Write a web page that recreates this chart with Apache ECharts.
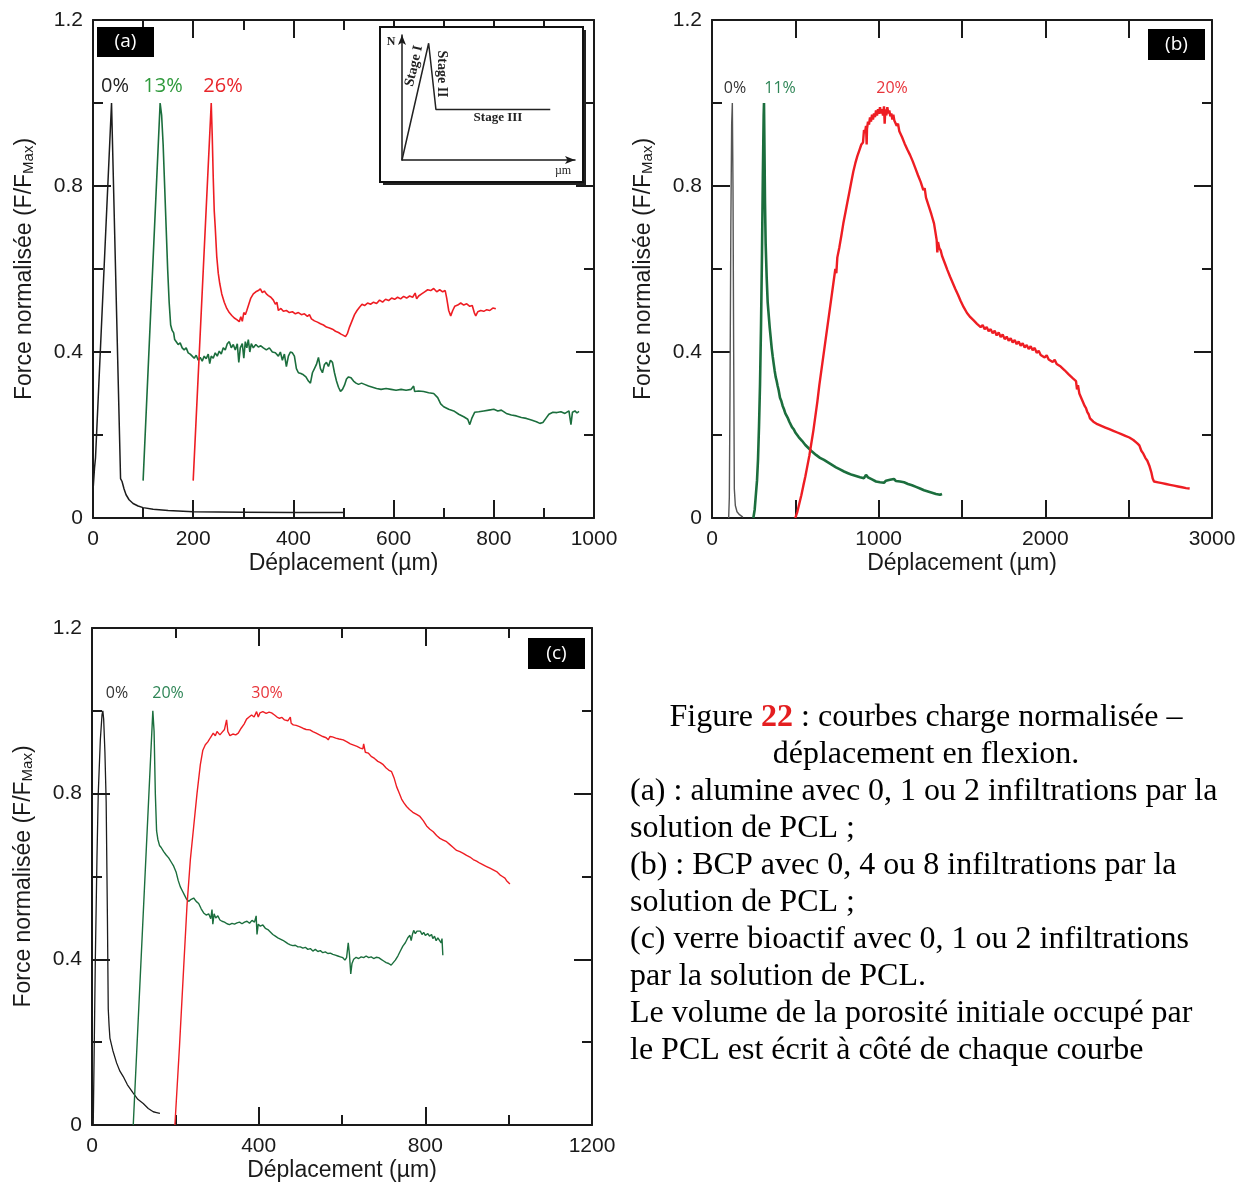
<!DOCTYPE html>
<html>
<head>
<meta charset="utf-8">
<script src="https://cdn.jsdelivr.net/npm/echarts@6/dist/echarts.min.js"></script>
<style>
html, body { margin: 0; padding: 0; background: #fff; }
#chart { width: 1244px; height: 1184px; }
</style>
</head>
<body>
<div id="chart"></div>
<script>
// ---------- (a) alumine : 0, 13, 26 % ----------
const a0 = [[0,0.065],[3,0.12],[5,0.145],[37,1.0],[55,0.095],[58,0.088],[62,0.07],[66,0.056],[72,0.044],[80,0.035],[90,0.029],[100,0.025],[120,0.021],[150,0.018],[200,0.015],[300,0.014],[400,0.013],[500,0.013]];
const a13 = [[100,0.09],[134,1.0],[137,0.97],[140,0.9],[143,0.8],[146,0.7],[149,0.6],[152,0.52],[155,0.465],[158,0.452],[161,0.446],[163,0.43],[166,0.428],[170,0.418],[174,0.422],[178,0.41],[182,0.405],[186,0.41],[190,0.398],[194,0.395],[198,0.39],[202,0.385],[206,0.392],[210,0.38],[214,0.387],[218,0.378],[222,0.39],[226,0.384],[230,0.395],[233,0.372],[236,0.39],[240,0.385],[244,0.398],[248,0.39],[252,0.402],[256,0.395],[260,0.41],[264,0.405],[268,0.42],[272,0.425],[276,0.41],[280,0.418],[284,0.405],[288,0.42],[291,0.375],[294,0.41],[298,0.42],[301,0.385],[304,0.425],[307,0.41],[310,0.43],[313,0.4],[316,0.42],[320,0.41],[325,0.418],[330,0.412],[335,0.415],[340,0.41],[346,0.405],[352,0.41],[358,0.4],[364,0.398],[370,0.39],[374,0.4],[378,0.38],[382,0.395],[386,0.365],[390,0.39],[394,0.4],[398,0.398],[402,0.39],[406,0.36],[410,0.35],[415,0.348],[420,0.345],[425,0.34],[430,0.33],[434,0.325],[438,0.35],[442,0.36],[446,0.37],[450,0.387],[454,0.36],[458,0.35],[462,0.37],[466,0.375],[470,0.365],[474,0.38],[478,0.375],[482,0.35],[486,0.33],[490,0.315],[494,0.305],[498,0.31],[502,0.32],[506,0.335],[510,0.34],[515,0.338],[520,0.33],[525,0.325],[530,0.322],[536,0.325],[542,0.322],[550,0.318],[558,0.315],[566,0.312],[575,0.31],[585,0.312],[595,0.31],[605,0.308],[615,0.31],[625,0.308],[635,0.31],[640,0.318],[642,0.305],[650,0.306],[660,0.305],[670,0.302],[680,0.3],[688,0.29],[694,0.275],[700,0.268],[710,0.262],[720,0.258],[730,0.25],[740,0.244],[748,0.238],[752,0.225],[756,0.24],[762,0.255],[770,0.256],[780,0.258],[790,0.26],[800,0.262],[808,0.258],[815,0.26],[825,0.252],[835,0.248],[845,0.246],[855,0.242],[865,0.24],[875,0.236],[885,0.232],[892,0.228],[898,0.23],[904,0.24],[910,0.25],[918,0.255],[926,0.254],[934,0.256],[942,0.252],[950,0.258],[954,0.225],[957,0.255],[962,0.258],[966,0.253],[970,0.257]];
const a26 = [[200,0.09],[236,1.0],[238,0.92],[240,0.82],[242,0.74],[244,0.7],[247,0.63],[250,0.59],[253,0.565],[257,0.54],[262,0.52],[267,0.505],[272,0.495],[277,0.488],[282,0.482],[287,0.478],[292,0.473],[295,0.485],[298,0.474],[301,0.495],[304,0.49],[307,0.5],[311,0.515],[315,0.53],[320,0.54],[325,0.545],[330,0.548],[334,0.552],[338,0.543],[342,0.547],[346,0.54],[350,0.536],[355,0.532],[360,0.525],[364,0.515],[367,0.52],[370,0.5],[375,0.505],[380,0.498],[386,0.5],[392,0.495],[398,0.497],[404,0.492],[410,0.495],[416,0.49],[422,0.492],[428,0.486],[432,0.49],[436,0.48],[442,0.475],[448,0.472],[454,0.468],[460,0.465],[466,0.46],[472,0.458],[478,0.455],[484,0.45],[490,0.447],[495,0.443],[500,0.44],[504,0.437],[508,0.445],[512,0.46],[517,0.475],[522,0.49],[527,0.5],[532,0.508],[537,0.515],[542,0.512],[548,0.518],[554,0.515],[560,0.52],[566,0.517],[572,0.525],[578,0.52],[584,0.527],[590,0.524],[596,0.53],[602,0.527],[608,0.532],[614,0.528],[620,0.534],[626,0.53],[632,0.535],[638,0.532],[643,0.542],[646,0.528],[650,0.535],[656,0.54],[662,0.545],[668,0.55],[674,0.548],[680,0.553],[686,0.545],[692,0.55],[698,0.545],[703,0.548],[706,0.53],[710,0.5],[714,0.487],[718,0.5],[722,0.51],[728,0.513],[734,0.518],[740,0.513],[746,0.516],[752,0.51],[757,0.512],[761,0.495],[764,0.487],[768,0.497],[774,0.5],[780,0.498],[786,0.502],[792,0.5],[798,0.506],[804,0.504]];

// ---------- (b) BCP : 0, 11, 20 % ----------
const b0 = [[100,0],[104,0.05],[108,0.3],[113,0.7],[118,0.95],[122,1.0],[126,0.8],[130,0.4],[134,0.07],[140,0.03],[150,0.015],[165,0.008],[185,0.002]];
const b11 = [[248,0],[256,0.02],[262,0.05],[270,0.09],[276,0.14],[282,0.22],[288,0.32],[294,0.46],[300,0.64],[305,0.82],[310,0.97],[312,1.0],[315,0.88],[318,0.76],[322,0.66],[328,0.58],[334,0.52],[340,0.49],[346,0.46],[352,0.435],[358,0.41],[364,0.39],[370,0.372],[376,0.355],[382,0.34],[388,0.33],[394,0.318],[400,0.308],[408,0.29],[416,0.282],[424,0.27],[432,0.262],[440,0.252],[448,0.248],[456,0.24],[464,0.232],[472,0.228],[480,0.219],[490,0.214],[500,0.206],[510,0.203],[520,0.195],[530,0.192],[540,0.186],[550,0.183],[560,0.176],[570,0.174],[580,0.168],[590,0.167],[600,0.16],[612,0.158],[624,0.152],[636,0.151],[648,0.145],[660,0.146],[672,0.14],[684,0.139],[696,0.134],[708,0.133],[720,0.128],[732,0.128],[744,0.122],[756,0.122],[768,0.117],[780,0.118],[792,0.112],[804,0.113],[816,0.108],[828,0.109],[840,0.104],[852,0.106],[864,0.101],[876,0.103],[888,0.098],[900,0.1],[912,0.096],[924,0.104],[936,0.098],[948,0.1],[960,0.093],[972,0.095],[984,0.088],[996,0.091],[1008,0.086],[1020,0.089],[1032,0.085],[1044,0.09],[1056,0.086],[1068,0.092],[1080,0.088],[1092,0.094],[1104,0.089],[1116,0.093],[1128,0.088],[1140,0.092],[1152,0.086],[1164,0.088],[1176,0.082],[1188,0.084],[1200,0.079],[1212,0.08],[1224,0.075],[1236,0.076],[1248,0.071],[1260,0.072],[1272,0.067],[1284,0.068],[1296,0.064],[1308,0.066],[1320,0.061],[1332,0.063],[1344,0.058],[1356,0.061],[1368,0.056],[1380,0.058]];
const b20 = [[500,0],[512,0.015],[524,0.035],[536,0.055],[548,0.078],[560,0.1],[572,0.125],[584,0.15],[596,0.18],[608,0.21],[620,0.245],[632,0.28],[644,0.32],[656,0.355],[668,0.39],[680,0.425],[692,0.46],[704,0.495],[716,0.53],[728,0.565],[740,0.6],[746,0.59],[752,0.628],[764,0.652],[776,0.68],[788,0.71],[800,0.735],[812,0.76],[824,0.785],[836,0.81],[848,0.835],[860,0.855],[872,0.872],[884,0.886],[896,0.9],[906,0.905],[912,0.935],[918,0.928],[924,0.945],[928,0.9],[930,0.938],[936,0.955],[942,0.948],[948,0.965],[954,0.955],[960,0.972],[966,0.96],[972,0.975],[978,0.966],[984,0.982],[990,0.97],[996,0.985],[1002,0.974],[1008,0.99],[1014,0.975],[1020,0.985],[1026,0.97],[1032,0.992],[1036,0.95],[1040,0.985],[1046,0.97],[1052,0.99],[1058,0.975],[1064,0.982],[1070,0.968],[1076,0.975],[1082,0.96],[1088,0.972],[1094,0.958],[1100,0.962],[1108,0.945],[1116,0.95],[1124,0.932],[1132,0.935],[1140,0.918],[1148,0.92],[1156,0.902],[1164,0.905],[1172,0.888],[1180,0.892],[1188,0.875],[1196,0.878],[1204,0.86],[1212,0.862],[1220,0.843],[1228,0.845],[1236,0.826],[1244,0.83],[1252,0.81],[1260,0.812],[1268,0.79],[1276,0.795],[1284,0.772],[1292,0.775],[1300,0.752],[1308,0.755],[1316,0.732],[1324,0.735],[1332,0.71],[1340,0.69],[1348,0.67],[1352,0.64],[1356,0.665],[1364,0.65],[1372,0.645],[1380,0.632],[1388,0.63],[1396,0.615],[1404,0.612],[1412,0.598],[1420,0.596],[1428,0.582],[1436,0.58],[1444,0.567],[1452,0.565],[1460,0.552],[1468,0.55],[1476,0.538],[1484,0.535],[1492,0.523],[1500,0.52],[1510,0.508],[1520,0.505],[1530,0.494],[1540,0.495],[1550,0.484],[1560,0.487],[1570,0.476],[1580,0.478],[1590,0.468],[1600,0.472],[1612,0.46],[1624,0.465],[1636,0.455],[1648,0.46],[1660,0.45],[1672,0.455],[1684,0.445],[1696,0.451],[1708,0.44],[1720,0.447],[1732,0.436],[1744,0.442],[1756,0.431],[1768,0.437],[1780,0.427],[1792,0.433],[1804,0.423],[1816,0.429],[1828,0.419],[1840,0.425],[1852,0.415],[1864,0.421],[1876,0.411],[1888,0.417],[1900,0.407],[1912,0.414],[1924,0.404],[1936,0.41],[1948,0.398],[1960,0.403],[1972,0.393],[1984,0.397],[1996,0.387],[2008,0.392],[2020,0.382],[2032,0.386],[2044,0.376],[2056,0.381],[2068,0.371],[2080,0.375],[2092,0.365],[2104,0.367],[2116,0.356],[2128,0.357],[2140,0.346],[2152,0.347],[2164,0.337],[2176,0.336],[2184,0.33],[2190,0.31],[2196,0.32],[2204,0.3],[2212,0.296],[2220,0.285],[2228,0.282],[2236,0.27],[2244,0.265],[2252,0.255],[2260,0.25],[2268,0.24],[2276,0.236],[2288,0.232],[2300,0.235],[2312,0.226],[2324,0.23],[2336,0.222],[2348,0.226],[2360,0.218],[2372,0.222],[2384,0.214],[2396,0.218],[2408,0.21],[2420,0.214],[2432,0.206],[2444,0.21],[2456,0.202],[2468,0.206],[2480,0.198],[2492,0.202],[2504,0.194],[2516,0.196],[2528,0.188],[2540,0.19],[2552,0.18],[2564,0.175],[2576,0.162],[2588,0.155],[2600,0.145],[2612,0.138],[2624,0.126],[2636,0.11],[2644,0.095],[2652,0.088],[2664,0.09],[2676,0.086],[2688,0.089],[2700,0.084],[2712,0.087],[2724,0.082],[2736,0.085],[2748,0.08],[2760,0.083],[2772,0.078],[2784,0.081],[2796,0.076],[2808,0.079],[2820,0.074],[2832,0.077],[2844,0.072],[2856,0.075],[2866,0.071]];

// ---------- (c) verre bioactif : 0, 20, 30 % ----------
const c0 = [[3,0.0],[8,0.4],[12,0.65],[15,0.8],[20,0.93],[24,0.99],[26,1.0],[28,0.98],[31,0.9],[34,0.78],[37,0.5],[39,0.28],[41,0.24],[43,0.21],[50,0.18],[59,0.15],[67,0.13],[75,0.117],[85,0.097],[99,0.077],[110,0.062],[123,0.052],[135,0.04],[147,0.032],[155,0.03],[163,0.028]];
const c20 = [[99,0],[146,1.0],[149,0.95],[152,0.8],[155,0.71],[158,0.69],[162,0.675],[166,0.67],[172,0.66],[178,0.652],[184,0.645],[190,0.635],[196,0.625],[202,0.61],[207,0.59],[212,0.575],[217,0.565],[222,0.555],[227,0.545],[232,0.54],[238,0.545],[244,0.548],[250,0.54],[256,0.535],[262,0.522],[268,0.512],[274,0.507],[280,0.51],[285,0.498],[288,0.52],[290,0.485],[293,0.51],[297,0.5],[302,0.505],[307,0.495],[312,0.492],[318,0.49],[324,0.486],[330,0.484],[336,0.487],[342,0.485],[348,0.488],[354,0.49],[360,0.486],[366,0.49],[372,0.492],[378,0.487],[384,0.494],[390,0.49],[394,0.505],[396,0.46],[399,0.485],[404,0.48],[410,0.483],[416,0.475],[422,0.472],[428,0.466],[434,0.46],[440,0.456],[446,0.452],[452,0.449],[458,0.446],[464,0.442],[470,0.438],[476,0.435],[482,0.433],[488,0.434],[494,0.43],[500,0.43],[506,0.427],[512,0.429],[518,0.424],[524,0.426],[530,0.42],[536,0.424],[542,0.419],[548,0.421],[554,0.416],[560,0.418],[566,0.414],[572,0.415],[578,0.412],[584,0.41],[590,0.408],[596,0.406],[602,0.404],[607,0.398],[611,0.404],[615,0.44],[618,0.41],[621,0.365],[624,0.39],[628,0.4],[634,0.405],[640,0.402],[646,0.406],[652,0.404],[658,0.408],[664,0.404],[670,0.406],[676,0.402],[682,0.405],[688,0.404],[694,0.4],[700,0.396],[706,0.392],[712,0.39],[718,0.386],[722,0.39],[728,0.398],[734,0.408],[740,0.42],[746,0.432],[752,0.44],[758,0.452],[763,0.458],[766,0.445],[769,0.46],[772,0.47],[776,0.462],[780,0.468],[784,0.464],[788,0.468],[792,0.46],[796,0.465],[800,0.458],[806,0.462],[810,0.456],[815,0.46],[818,0.45],[822,0.456],[826,0.445],[830,0.452],[834,0.448],[838,0.44],[840,0.45],[842,0.41]];
const c30 = [[199,0],[210,0.19],[220,0.38],[228,0.53],[236,0.64],[244,0.72],[252,0.8],[260,0.87],[266,0.905],[272,0.918],[278,0.925],[284,0.935],[291,0.946],[296,0.94],[300,0.95],[307,0.942],[312,0.948],[318,0.955],[323,0.978],[326,0.95],[331,0.94],[338,0.944],[345,0.942],[351,0.946],[358,0.958],[365,0.968],[371,0.98],[377,0.985],[383,0.99],[389,0.985],[395,0.998],[399,0.985],[403,0.995],[410,0.998],[418,0.994],[425,0.997],[431,0.995],[438,0.99],[444,0.985],[450,0.982],[456,0.984],[462,0.978],[470,0.976],[476,0.985],[478,0.97],[483,0.966],[490,0.965],[498,0.962],[506,0.958],[514,0.955],[523,0.954],[530,0.95],[538,0.946],[546,0.942],[554,0.938],[562,0.935],[567,0.93],[571,0.938],[577,0.937],[585,0.934],[593,0.932],[603,0.93],[612,0.925],[620,0.92],[628,0.917],[636,0.914],[644,0.91],[650,0.908],[652,0.92],[656,0.9],[663,0.898],[670,0.89],[678,0.885],[686,0.878],[692,0.875],[699,0.87],[706,0.862],[712,0.857],[719,0.853],[725,0.838],[731,0.817],[737,0.802],[743,0.787],[749,0.777],[755,0.769],[762,0.762],[770,0.755],[779,0.75],[787,0.745],[795,0.735],[803,0.722],[811,0.714],[819,0.708],[827,0.699],[835,0.692],[843,0.688],[851,0.684],[859,0.677],[867,0.67],[875,0.663],[883,0.66],[891,0.656],[899,0.651],[907,0.647],[915,0.641],[923,0.637],[931,0.632],[939,0.628],[947,0.624],[955,0.62],[963,0.616],[971,0.612],[979,0.604],[985,0.6],[991,0.596],[995,0.59],[999,0.588],[1003,0.582]];

// ---------- inset schematic (arbitrary units) ----------
const sketch = [[0,0],[1.54,9.34],[1.96,4.05],[8.57,4.05]];

// tick label texts
const yTicks = ['0', '0.4', '0.8', '1.2'];
const percentA = ['0%', '13%', '26%'];
const percentB = ['0%', '11%', '20%'];
const percentC = ['0%', '20%', '30%'];
const captionLines = [
  'Figure {r|22} : courbes charge normalisée –',
  'déplacement en flexion.',
  '(a) : alumine avec 0, 1 ou 2 infiltrations par la',
  'solution de PCL ;',
  '(b) : BCP avec 0, 4 ou 8 infiltrations par la',
  'solution de PCL ;',
  '(c) verre bioactif avec 0, 1 ou 2 infiltrations',
  'par la solution de PCL.',
  'Le volume de la porosité initiale occupé par',
  'le PCL est écrit à côté de chaque courbe'
];

const SANS = '"Liberation Sans", Arial, sans-serif';
const OPEN = '"Open Sans", sans-serif';
const SERIF = '"Liberation Serif", "Times New Roman", serif';
const INK = '#1a1a1a';
const RED = '#ee1d23';
const GREEN = '#1b6e3d';
const BLACK = '#1c1c1c';

function xPair(g, max, interval, minor, fmt) {
  const base = {
    gridIndex: g, type: 'value', min: 0, max: max, interval: interval,
    splitLine: { show: false },
    axisLine: { onZero: false, lineStyle: { color: INK, width: 2 } },
    axisTick: { inside: true, length: 18, lineStyle: { color: INK, width: 2 } },
    minorTick: { show: minor > 1, splitNumber: minor || 2, length: 10, lineStyle: { color: INK, width: 2 } },
    minorSplitLine: { show: false }
  };
  return [
    Object.assign({}, base, {
      position: 'bottom',
      name: 'Déplacement (µm)', nameLocation: 'middle', nameGap: 34,
      nameTextStyle: { fontFamily: SANS, fontSize: 23, color: INK },
      axisLabel: { fontFamily: SANS, fontSize: 21, color: INK, margin: 11, formatter: fmt }
    }),
    Object.assign({}, base, { position: 'top', axisLabel: { show: false } })
  ];
}

function yPair(g) {
  const base = {
    gridIndex: g, type: 'value', min: 0, max: 1.2, interval: 0.4,
    splitLine: { show: false },
    axisLine: { onZero: false, lineStyle: { color: INK, width: 2 } },
    axisTick: { inside: true, length: 18, lineStyle: { color: INK, width: 2 } },
    minorTick: { show: true, splitNumber: 2, length: 10, lineStyle: { color: INK, width: 2 } },
    minorSplitLine: { show: false }
  };
  return [
    Object.assign({}, base, {
      position: 'left',
      name: 'Force normalisée (F/F{s|Max})', nameLocation: 'middle', nameGap: 57,
      nameTextStyle: {
        fontFamily: SANS, fontSize: 23, color: INK,
        rich: { s: { fontFamily: SANS, fontSize: 15, color: INK, verticalAlign: 'bottom', lineHeight: 15, padding: [8, 0, 0, 0] } }
      },
      axisLabel: {
        fontFamily: SANS, fontSize: 21, color: INK, margin: 10,
        formatter: function (v) { return yTicks[Math.round(v / 0.4)] || ''; }
      }
    }),
    Object.assign({}, base, { position: 'right', axisLabel: { show: false } })
  ];
}

function curve(g, data, color, width) {
  return {
    type: 'line', xAxisIndex: g * 2, yAxisIndex: g * 2, data: data,
    showSymbol: false, symbol: 'none', silent: true, z: 3,
    lineStyle: { color: color, width: width }
  };
}

function txt(x, y, text, font, fill, align) {
  return {
    type: 'text', x: x, y: y, z: 20, silent: true,
    style: { text: text, font: font, fill: fill, textAlign: align || 'center', textVerticalAlign: 'middle' }
  };
}

function tag(x, y, w, h, label) {
  return [
    { type: 'rect', z: 20, silent: true, shape: { x: x, y: y, width: w, height: h }, style: { fill: '#000' } },
    txt(x + w / 2, y + h / 2, label, '19px ' + OPEN, '#fff')
  ];
}

const xAxes = [].concat(
  xPair(0, 1000, 200, 2, function (v) { return String(v); }),
  xPair(1, 3000, 500, 0, function (v) { return v % 1000 === 0 ? String(v) : ''; }),
  xPair(2, 1200, 400, 2, function (v) { return String(v); }),
  [{
    gridIndex: 3, type: 'value', min: 0, max: 10, position: 'bottom',
    axisLine: { onZero: false, symbol: ['none', 'arrow'], symbolSize: [6, 10], lineStyle: { color: INK, width: 1.5 } },
    axisTick: { show: false }, axisLabel: { show: false }, splitLine: { show: false }, z: 12
  }, {
    gridIndex: 3, type: 'value', min: 0, max: 10, position: 'top', show: false
  }]
);
const yAxes = [].concat(
  yPair(0), yPair(1), yPair(2),
  [{
    gridIndex: 3, type: 'value', min: 0, max: 10, position: 'left',
    axisLine: { onZero: false, symbol: ['none', 'arrow'], symbolSize: [6, 10], lineStyle: { color: INK, width: 1.5 } },
    axisTick: { show: false }, axisLabel: { show: false }, splitLine: { show: false }, z: 12
  }, {
    gridIndex: 3, type: 'value', min: 0, max: 10, position: 'right', show: false
  }]
);

const graphics = [].concat(
  // inset frame with drop shadow
  [
    { type: 'rect', z: 8, silent: true, shape: { x: 383, y: 30, width: 203, height: 155 }, style: { fill: '#222' } },
    { type: 'rect', z: 9, silent: true, shape: { x: 380, y: 27, width: 203, height: 155 }, style: { fill: '#fff', stroke: '#111', lineWidth: 2 } },
    txt(391, 42, 'N', 'bold 12px ' + SERIF, '#222'),
    Object.assign(txt(414, 66, 'Stage I', 'bold 14px ' + SERIF, '#222'), { rotation: 77 * Math.PI / 180 }),
    Object.assign(txt(442, 74, 'Stage II', 'bold 14px ' + SERIF, '#222'), { rotation: -Math.PI / 2 }),
    txt(498, 118, 'Stage III', 'bold 13px ' + SERIF, '#222'),
    txt(563, 171, 'µm', '12px ' + SERIF, '#222')
  ],
  tag(97, 27, 57, 30, '(a)'),
  tag(1148, 29, 57, 31, '(b)'),
  tag(528, 638, 57, 31, '(c)'),
  [
    txt(115, 86, percentA[0], '20px ' + OPEN, '#222'),
    txt(163, 86, percentA[1], '20px ' + OPEN, '#2f9a3c'),
    txt(223, 86, percentA[2], '20px ' + OPEN, '#e8262b'),
    txt(735, 88, percentB[0], '16px ' + OPEN, '#333'),
    txt(780, 88, percentB[1], '16px ' + OPEN, '#2e8556'),
    txt(892, 88, percentB[2], '16px ' + OPEN, '#e8343a'),
    txt(117, 693, percentC[0], '16px ' + OPEN, '#333'),
    txt(168, 693, percentC[1], '16px ' + OPEN, '#2e8556'),
    txt(267, 693, percentC[2], '16px ' + OPEN, '#e8343a')
  ],
  captionLines.map(function (line, i) {
    const centered = i < 2;
    return {
      type: 'text', x: centered ? 926 : 630, y: 718 + i * 36.9, z: 20, silent: true,
      style: {
        text: line, font: '32px ' + SERIF, fill: '#000',
        textAlign: centered ? 'center' : 'left', textVerticalAlign: 'middle',
        rich: { r: { fill: '#e41e20', fontWeight: 'bold', fontSize: 32, fontFamily: SERIF } }
      }
    };
  })
);

const chart = echarts.init(document.getElementById('chart'), null, { renderer: 'canvas' });
chart.setOption({
  animation: false,
  backgroundColor: '#fff',
  grid: [
    { left: 93, top: 20, width: 501, height: 498 },
    { left: 712, top: 20, width: 500, height: 498 },
    { left: 92, top: 628, width: 500, height: 497 },
    { left: 402, top: 35, width: 173, height: 125, z: 10 }
  ],
  xAxis: xAxes,
  yAxis: yAxes,
  series: [
    curve(0, a0, BLACK, 1.5),
    curve(0, a13, GREEN, 1.6),
    curve(0, a26, RED, 1.6),
    curve(1, b0, '#555', 1.4),
    curve(1, b11, GREEN, 2.6),
    curve(1, b20, RED, 2.4),
    curve(2, c0, BLACK, 1.3),
    curve(2, c20, GREEN, 1.4),
    curve(2, c30, RED, 1.4),
    Object.assign(curve(3, sketch, '#222', 1.5), { xAxisIndex: 6, yAxisIndex: 6, z: 12 })
  ],
  graphic: graphics
});
</script>
</body>
</html>
